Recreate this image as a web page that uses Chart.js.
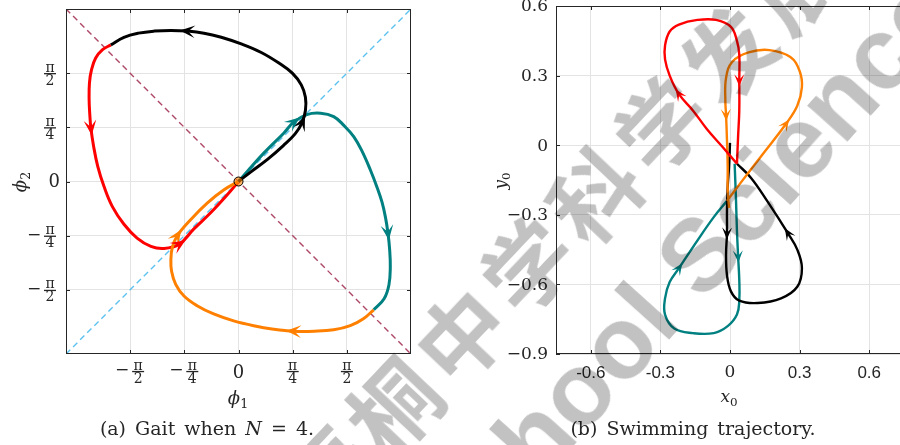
<!DOCTYPE html>
<html>
<head>
<meta charset="utf-8">
<script src="https://cdn.jsdelivr.net/npm/chart.js@4.4.1/dist/chart.umd.min.js"></script>
<style>
html, body { margin: 0; padding: 0; background: #fff; }
#wrap { position: relative; width: 900px; height: 445px; overflow: hidden; }
canvas { position: absolute; top: 0; }
.lbl { position: absolute; font-family: "DejaVu Serif", serif; color: #262626; white-space: nowrap; transform: translate(-50%, -50%); }
.cap { font-size: 19px; word-spacing: 3px; }
.it { font-style: italic; }
.sub { font-size: 70%; position: relative; top: 0.35em; font-style: normal; }
.wm { position: absolute; white-space: nowrap; color: #c2c2c2; mix-blend-mode: multiply; pointer-events: none; line-height: 1; }
</style>
</head>
<body>
<div id="wrap">
  <canvas id="gaitChart" width="450" height="445" style="left:0"></canvas>
  <canvas id="swimChart" width="460" height="445" style="left:450px"></canvas>

  <div class="lbl it" style="left:238px; top:397px; font-size:18px;">ϕ<span class="sub">1</span></div>
  <div class="lbl it" style="left:19px; top:182px; font-size:18px; transform:translate(-50%,-50%) rotate(-90deg);">ϕ<span class="sub">2</span></div>
  <div class="lbl it" style="left:729px; top:396px; font-size:17px;">x<span class="sub">0</span></div>
  <div class="lbl it" style="left:500px; top:181px; font-size:17px; transform:translate(-50%,-50%) rotate(-90deg);">y<span class="sub">0</span></div>

  <div class="lbl cap" style="left:207px; top:428px;">(a) Gait when <span class="it">N</span> = 4.</div>
  <div class="lbl cap" style="left:693px; top:428px;">(b) Swimming trajectory.</div>

  <div class="wm" style="left:561px; top:224px; transform:translate(-50%,-50%) rotate(-46.6deg); font-family:'Noto Sans CJK SC'; font-weight:bold; font-size:88px; letter-spacing:9px;">梧桐中学科学发展</div>
  <div class="wm" style="left:682px; top:273px; transform:translate(-50%,-50%) rotate(-48deg); font-family:'Liberation Sans'; font-weight:bold; font-size:102px;">School Science</div>
</div>
<script>
const PI4 = Math.PI / 4;

// (a) gait, phi1 / phi2 in radians
const phiTicks = [-2, -1, 0, 1, 2];          // multiples of pi/4
const phiTickLabels = ['−π/2', '−π/4', '0', 'π/4', 'π/2'];
const phiRange = [-2.5, 2.5];

const gaitBlack = [[0, 0], [0.18, 0.14], [0.42, 0.32], [0.65, 0.52], [0.82, 0.69], [0.92, 0.85], [0.97, 1.03], [0.97, 1.22], [0.91, 1.40], [0.78, 1.57], [0.58, 1.72], [0.33, 1.87], [0.05, 1.99], [-0.25, 2.09], [-0.50, 2.15], [-0.74, 2.18], [-0.98, 2.19], [-1.22, 2.18], [-1.45, 2.15], [-1.66, 2.09], [-1.85, 1.98]];
const gaitRed = [[-1.85, 1.98], [-1.97, 1.91], [-2.07, 1.79], [-2.13, 1.62], [-2.16, 1.43], [-2.165, 1.19], [-2.155, 0.97], [-2.14, 0.78], [-2.10, 0.51], [-2.04, 0.22], [-1.95, -0.07], [-1.83, -0.36], [-1.66, -0.62], [-1.47, -0.82], [-1.27, -0.94], [-1.08, -0.97], [-0.86, -0.91], [-0.65, -0.69], [-0.40, -0.45], [-0.16, -0.19], [0, 0]];
const gaitTeal = [[0, 0], [0.13, 0.15], [0.37, 0.415], [0.655, 0.70], [0.80, 0.86], [0.99, 0.97], [1.19, 0.99], [1.38, 0.94], [1.53, 0.81], [1.67, 0.65], [1.79, 0.44], [1.91, 0.17], [2.01, -0.09], [2.08, -0.30], [2.13, -0.52], [2.165, -0.74], [2.19, -0.98], [2.20, -1.24], [2.18, -1.50], [2.11, -1.70], [1.96, -1.86]];
const gaitOrange = [[1.96, -1.86], [1.81, -1.99], [1.62, -2.09], [1.38, -2.15], [1.10, -2.17], [0.80, -2.17], [0.51, -2.14], [0.22, -2.09], [-0.07, -2.02], [-0.36, -1.92], [-0.60, -1.80], [-0.79, -1.66], [-0.91, -1.49], [-0.97, -1.30], [-0.98, -1.13], [-0.96, -0.96], [-0.89, -0.79], [-0.69, -0.55], [-0.45, -0.31], [-0.21, -0.12], [0, 0]];
const gaitOrigin = [[0, 0]];
const antiDiagonal = [[-2.5, 2.5], [2.5, -2.5]];
const mainDiagonal = [[-2.5, -2.5], [2.5, 2.5]];

// arrow positions (point indices)
const gaitBlackArrows = [5, 15];
const gaitRedArrows = [7, 16];
const gaitTealArrows = [4, 15];
const gaitOrangeArrows = [5, 16];

// (b) swimming trajectory
const swimXTicks = [-0.6, -0.3, 0, 0.3, 0.6];
const swimXTickLabels = ['-0.6', '-0.3', '0', '0.3', '0.6'];
const swimYTicks = [0.6, 0.3, 0, -0.3, -0.6, -0.9];
const swimYTickLabels = ['0.6', '0.3', '0', '−0.3', '−0.6', '−0.9'];

const swimBlack = [[0, 0.01], [-0.004, -0.09], [-0.01, -0.18], [-0.013, -0.28], [-0.013, -0.38], [-0.017, -0.47], [-0.013, -0.56], [0.004, -0.63], [0.04, -0.67], [0.12, -0.68], [0.22, -0.66], [0.29, -0.61], [0.31, -0.53], [0.29, -0.45], [0.25, -0.38], [0.16, -0.24], [0.09, -0.14], [0.03, -0.08]];
const swimRed = [[0.03, -0.08], [-0.03, -0.01], [-0.10, 0.07], [-0.16, 0.15], [-0.22, 0.22], [-0.26, 0.30], [-0.28, 0.37], [-0.28, 0.43], [-0.26, 0.49], [-0.22, 0.52], [-0.14, 0.54], [-0.06, 0.54], [0.004, 0.51], [0.03, 0.45], [0.04, 0.39], [0.04, 0.28], [0.04, 0.15], [0.035, 0.04], [0.03, -0.08]];
const swimTeal = [[0.02, -0.08], [0.026, -0.24], [0.03, -0.37], [0.035, -0.48], [0.04, -0.58], [0.04, -0.67], [0.03, -0.73], [-0.01, -0.78], [-0.07, -0.81], [-0.16, -0.81], [-0.24, -0.79], [-0.28, -0.73], [-0.28, -0.66], [-0.26, -0.59], [-0.22, -0.53], [-0.14, -0.41], [-0.07, -0.31], [-0.013, -0.24]];
const swimOrange = [[-0.013, -0.24], [0.04, -0.17], [0.14, -0.04], [0.24, 0.09], [0.29, 0.17], [0.31, 0.25], [0.30, 0.32], [0.26, 0.38], [0.17, 0.41], [0.08, 0.40], [0.01, 0.36], [-0.017, 0.29], [-0.02, 0.19], [-0.017, 0.13], [-0.013, 0.02], [-0.01, -0.09], [-0.01, -0.19], [-0.004, -0.27]];

const swimBlackArrows = [4, 14];
const swimRedArrows = [4, 15];
const swimTealArrows = [3, 14];
const swimOrangeArrows = [3, 13];

const COLORS = { black: '#000000', red: '#ff0000', teal: '#008080', orange: '#ff8000' };
const AXIS_COLOR = '#262626';
const GRID_COLOR = '#e3e3e3';

function toPoints(arr) {
    return arr.map(p => ({ x: p[0], y: p[1] }));
}

function curve(arr, color, width, arrows, arrowSize) {
    return {
        data: toPoints(arr),
        borderColor: color,
        backgroundColor: color,
        borderWidth: width,
        showLine: true,
        pointRadius: 0,
        tension: 0.4,
        arrows: arrows,
        arrowSize: arrowSize
    };
}

function dashed(arr, color) {
    return {
        data: toPoints(arr),
        borderColor: color,
        backgroundColor: color,
        borderWidth: 1.4,
        borderDash: [6, 4],
        showLine: true,
        pointRadius: 0
    };
}

const arrowPlugin = {
    id: 'arrows',
    afterDatasetsDraw(chart) {
        const ctx = chart.ctx;
        chart.data.datasets.forEach((ds, i) => {
            if (!ds.arrows) {
                return;
            }
            const pts = chart.getDatasetMeta(i).data;
            ds.arrows.forEach(k => {
                const a = pts[k - 1], p = pts[k], b = pts[k + 1];
                let dx = b.x - a.x, dy = b.y - a.y;
                const len = Math.hypot(dx, dy);
                dx /= len; dy /= len;
                const L = ds.arrowSize, W = L * 0.42;
                const nx = -dy, ny = dx;
                const tx = p.x + dx * L * 0.5, ty = p.y + dy * L * 0.5;
                const bx = p.x - dx * L * 0.5, by = p.y - dy * L * 0.5;
                ctx.save();
                ctx.beginPath();
                ctx.moveTo(tx, ty);
                ctx.lineTo(bx + nx * W, by + ny * W);
                ctx.lineTo(p.x - dx * L * 0.05, p.y - dy * L * 0.05);
                ctx.lineTo(bx - nx * W, by - ny * W);
                ctx.closePath();
                ctx.fillStyle = ds.borderColor;
                ctx.fill();
                ctx.restore();
            });
        });
    }
};

function boxPlugin(drawLabels) {
    return {
        id: 'box',
        afterDraw(chart) {
            const ctx = chart.ctx;
            const a = chart.chartArea;
            const { x, y } = chart.scales;
            ctx.save();
            ctx.strokeStyle = AXIS_COLOR;
            ctx.lineWidth = 1;
            ctx.beginPath();
            x.ticks.forEach(t => {
                const px = Math.round(x.getPixelForValue(t.value)) + 0.5;
                ctx.moveTo(px, a.bottom); ctx.lineTo(px, a.bottom - 4);
                ctx.moveTo(px, a.top); ctx.lineTo(px, a.top + 4);
            });
            y.ticks.forEach(t => {
                const py = Math.round(y.getPixelForValue(t.value)) + 0.5;
                ctx.moveTo(a.left, py); ctx.lineTo(a.left + 4, py);
                ctx.moveTo(a.right, py); ctx.lineTo(a.right - 4, py);
            });
            ctx.stroke();
            ctx.strokeRect(Math.round(a.left) + 0.5, Math.round(a.top) + 0.5, Math.round(a.width) - 1, Math.round(a.height) - 1);
            ctx.fillStyle = AXIS_COLOR;
            drawLabels(ctx, a, x, y);
            ctx.restore();
        }
    };
}

function scaleOpts(min, max, ticks, isX) {
    return {
        type: 'linear',
        min: min,
        max: max,
        afterBuildTicks: s => { s.ticks = ticks.map(v => ({ value: v })); },
        afterFit: s => { if (isX) { s.height = 0; } else { s.width = 0; } },
        ticks: { display: false },
        grid: { color: GRID_COLOR, drawTicks: false },
        border: { display: false }
    };
}

// fraction label like pi/4 with optional minus sign
function drawFraction(ctx, label, cx, barY, anchor) {
    const neg = label.startsWith('−');
    const body = neg ? label.slice(1) : label;
    const parts = body.split('/');
    const fw = 12;
    const total = neg ? fw + 16 : fw;
    const left = anchor === 'right' ? cx - total : cx - total / 2;
    const fc = left + (neg ? 16 : 0) + fw / 2;
    if (neg) {
        ctx.font = '17px "DejaVu Serif"';
        ctx.textAlign = 'center';
        ctx.textBaseline = 'middle';
        ctx.fillText('−', left + 6, barY - 1);
    }
    ctx.font = '14px "DejaVu Serif"';
    ctx.textAlign = 'center';
    ctx.textBaseline = 'alphabetic';
    ctx.fillText(parts[0], fc, barY - 2);
    ctx.fillRect(fc - fw / 2, barY - 0.6, fw, 1.3);
    ctx.fillText(parts[1], fc, barY + 11);
}

function drawGaitLabels(ctx, a, x, y) {
    phiTicks.forEach((v, i) => {
        const lab = phiTickLabels[i];
        const px = x.getPixelForValue(v * PI4);
        const py = y.getPixelForValue(v * PI4);
        if (lab === '0') {
            ctx.font = '18px "DejaVu Serif"';
            ctx.textBaseline = 'middle';
            ctx.textAlign = 'center';
            ctx.fillText('0', px, a.bottom + 19);
            ctx.textAlign = 'right';
            ctx.fillText('0', a.left - 6, py + 1);
        } else {
            drawFraction(ctx, lab, px, a.bottom + 17.5, 'center');
            drawFraction(ctx, lab, a.left - 10, py + 0.5, 'right');
        }
    });
}

function drawSwimLabels(ctx, a, x, y) {
    ctx.textBaseline = 'middle';
    swimYTicks.forEach((v, i) => {
        ctx.font = '17px "DejaVu Serif"';
        ctx.textAlign = 'right';
        ctx.fillText(swimYTickLabels[i], a.left - 8, y.getPixelForValue(v) + 1);
    });
    swimXTicks.forEach((v, i) => {
        ctx.font = v === 0 ? '17px "DejaVu Serif"' : '17px "Liberation Sans"';
        ctx.textAlign = 'center';
        ctx.fillText(swimXTickLabels[i], x.getPixelForValue(v), a.bottom + 19);
    });
}

const baseOptions = {
    responsive: false,
    animation: false,
    plugins: { legend: { display: false }, tooltip: { enabled: false } }
};

new Chart(document.getElementById('gaitChart'), {
    type: 'scatter',
    data: {
        datasets: [
            {
                data: toPoints(gaitOrigin),
                pointRadius: 4.5,
                pointBorderWidth: 1,
                pointBorderColor: '#000',
                pointBackgroundColor: 'rgba(255,128,0,0.6)'
            },
            curve(gaitBlack, COLORS.black, 3, gaitBlackArrows, 15),
            curve(gaitTeal, COLORS.teal, 3, gaitTealArrows, 15),
            curve(gaitOrange, COLORS.orange, 3, gaitOrangeArrows, 15),
            curve(gaitRed, COLORS.red, 3, gaitRedArrows, 15),
            dashed(antiDiagonal, '#ad4866'),
            dashed(mainDiagonal, '#5ec2ee')
        ]
    },
    options: {
        ...baseOptions,
        layout: { padding: { left: 66, right: 39, top: 9, bottom: 91 } },
        scales: {
            x: scaleOpts(phiRange[0], phiRange[1], phiTicks.map(v => v * PI4), true),
            y: scaleOpts(phiRange[0], phiRange[1], phiTicks.map(v => v * PI4), false)
        }
    },
    plugins: [arrowPlugin, boxPlugin(drawGaitLabels)]
});

new Chart(document.getElementById('swimChart'), {
    type: 'scatter',
    data: {
        datasets: [
            curve(swimRed, COLORS.red, 2.4, swimRedArrows, 12),
            curve(swimOrange, COLORS.orange, 2.4, swimOrangeArrows, 12),
            curve(swimBlack, COLORS.black, 2.4, swimBlackArrows, 12),
            curve(swimTeal, COLORS.teal, 2.4, swimTealArrows, 12)
        ]
    },
    options: {
        ...baseOptions,
        layout: { padding: { left: 106, right: 6, top: 6, bottom: 91 } },
        scales: {
            x: scaleOpts(-0.75, 0.75, swimXTicks, true),
            y: scaleOpts(-0.9, 0.6, swimYTicks, false)
        }
    },
    plugins: [arrowPlugin, boxPlugin(drawSwimLabels)]
});
</script>
</body>
</html>
